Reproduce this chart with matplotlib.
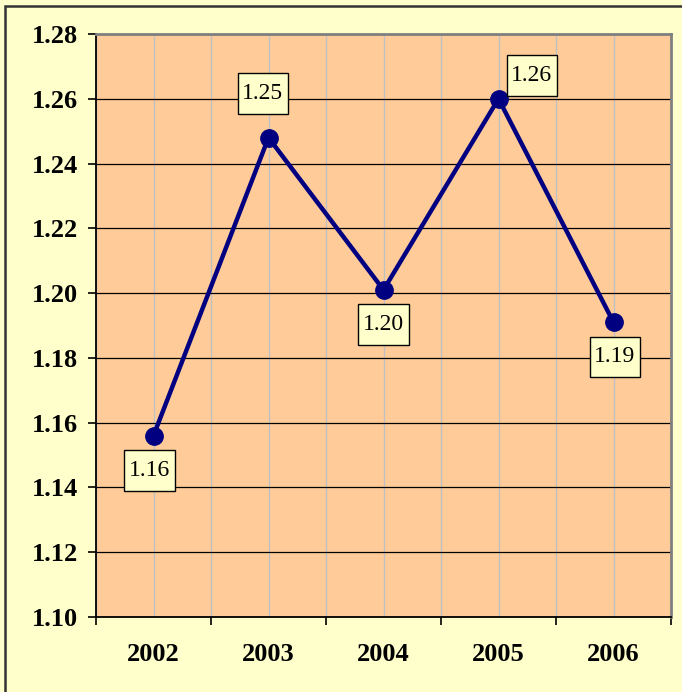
import matplotlib
matplotlib.use("Agg")
import matplotlib.pyplot as plt
from matplotlib.patches import Rectangle
from matplotlib.path import Path
from matplotlib.ticker import FixedLocator, MultipleLocator

years = ["2002", "2003", "2004", "2005", "2006"]
values = [1.156, 1.248, 1.201, 1.260, 1.191]
labels = ["1.16", "1.25", "1.20", "1.26", "1.19"]
# label offsets in points (x, y) relative to the point
offsets = [(-3, -25), (-4, 32), (0, -25), (24, 17), (1, -25)]

plt.rcParams['font.family'] = ['Liberation Serif', 'DejaVu Serif']


def label_box(x0, y0, width, height, mutation_size):
    # taller than wide padding, like the excel data labels
    px = 0.2 * mutation_size
    py = 0.42 * mutation_size
    return Path([(x0 - px, y0 - py), (x0 + width + px, y0 - py),
                 (x0 + width + px, y0 + height + py), (x0 - px, y0 + height + py),
                 (x0 - px, y0 - py)], closed=True)


fig = plt.figure(figsize=(6.82, 6.92), dpi=100, facecolor='#FFFFCC')
ax = fig.add_axes([96/682, 1 - 617/692, 575/682, 583/692])
ax.set_facecolor('#FFCC99')

# outer frame
fig.patches.append(Rectangle((5/682, -0.1), 1.2, 1 - 6/692 + 0.1, transform=fig.transFigure,
                             fill=False, edgecolor='#333333', linewidth=1.8))

x = list(range(len(years)))
ax.plot(x, values, color='#000080', linewidth=3.2, marker='o', markersize=12.5, zorder=5)

for xi, v, lab, off in zip(x, values, labels, offsets):
    ax.annotate(lab, (xi, v), xytext=off, textcoords='offset points', ha='center', va='center',
                fontsize=17, zorder=6,
                bbox=dict(boxstyle=label_box, facecolor='#FFFFCC', edgecolor='black', linewidth=1))

ax.set_xlim(-0.5, 4.5)
ax.set_ylim(1.10, 1.28)
ax.yaxis.set_major_locator(MultipleLocator(0.02))
ax.set_yticklabels([f"{t:.2f}" for t in ax.get_yticks()])

ax.xaxis.set_major_locator(FixedLocator([i - 0.5 for i in range(len(years) + 1)]))
ax.xaxis.set_minor_locator(FixedLocator(x))
ax.set_xticklabels([], minor=False)
ax.set_xticklabels(years, minor=True)

ax.tick_params(axis='x', which='major', direction='out', length=6, width=1.2, color='black')
ax.tick_params(axis='x', which='minor', length=0, pad=19, labelsize=19)
ax.tick_params(axis='y', direction='out', length=6, width=1.2, pad=7, labelsize=19)
for t in ax.get_xticklabels(minor=True) + ax.get_yticklabels():
    t.set_fontweight('bold')

ax.grid(axis='y', color='black', linewidth=0.9, zorder=1)
ax.grid(axis='x', which='both', color='#C0C0C0', linewidth=1, zorder=1)
ax.set_axisbelow(True)

ax.spines['left'].set_color('black')
ax.spines['bottom'].set_color('black')
ax.spines['left'].set_linewidth(1.3)
ax.spines['bottom'].set_linewidth(1.3)
ax.spines['top'].set_color('#808080')
ax.spines['right'].set_color('#808080')
ax.spines['top'].set_linewidth(2)
ax.spines['right'].set_linewidth(2)

fig.savefig('out.png', dpi=100, facecolor=fig.get_facecolor())
